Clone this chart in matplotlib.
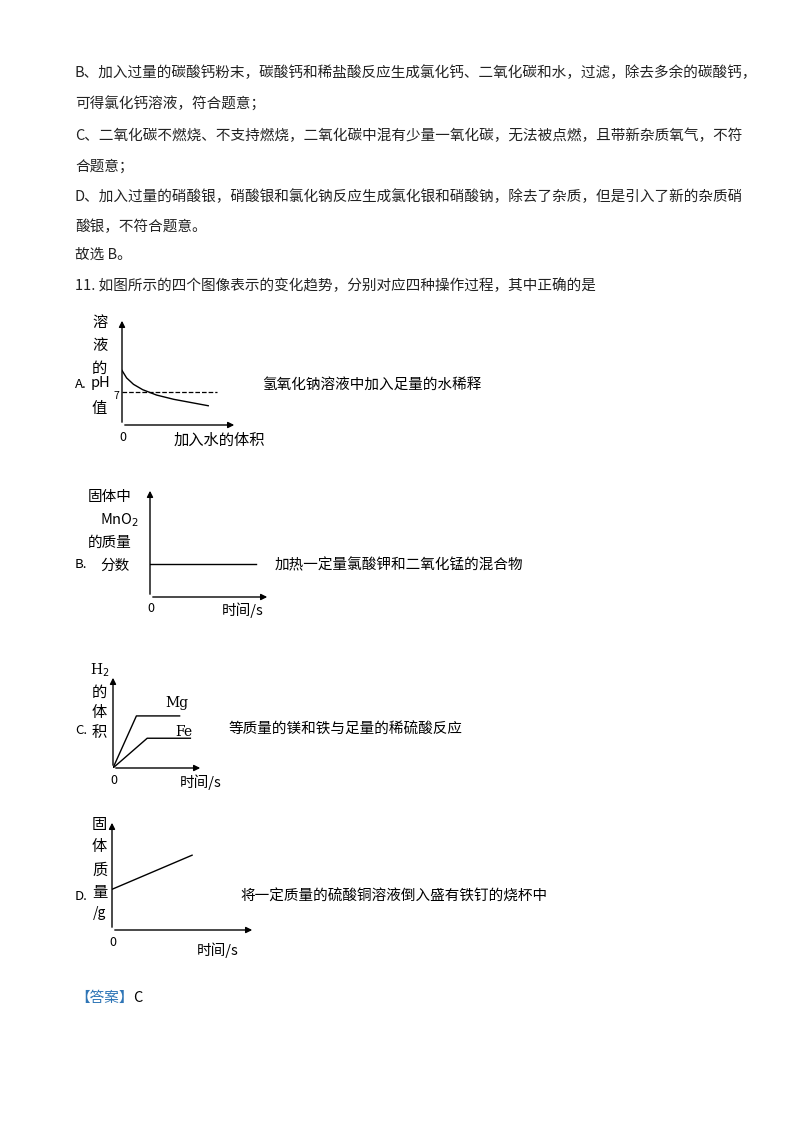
import matplotlib
matplotlib.use("Agg")
import matplotlib.pyplot as plt

plt.rcParams['font.family'] = ['Noto Sans CJK SC', 'DejaVu Sans']

W, H = 800, 1132

# ---- text lines of the page ----
LINES = [
    (73, "B、加入过量的碳酸钙粉末，碳酸钙和稀盐酸反应生成氯化钙、二氧化碳和水，过滤，除去多余的碳酸钙，"),
    (104, "可得氯化钙溶液，符合题意；"),
    (136, "C、二氧化碳不燃烧、不支持燃烧，二氧化碳中混有少量一氧化碳，无法被点燃，且带新杂质氧气，不符"),
    (166, "合题意；"),
    (197, "D、加入过量的硝酸银，硝酸银和氯化钠反应生成氯化银和硝酸钠，除去了杂质，但是引入了新的杂质硝"),
    (227, "酸银，不符合题意。"),
    (255, "故选 B。"),
    (286, "11. 如图所示的四个图像表示的变化趋势，分别对应四种操作过程，其中正确的是"),
]

# graph A: pH of NaOH solution on dilution
ph_x = [0, 0.4, 1.0, 1.8, 3.0, 4.5, 6.0, 7.5]
ph_y = [5.1, 4.4, 3.8, 3.3, 2.8, 2.4, 2.1, 1.8]
ph_7 = 3.1
# graph B: MnO2 mass fraction (constant)
mno2_x = [0, 8.8]
mno2_y = [3.0, 3.0]
# graph C: H2 volume
mg_x = [0, 2.6, 7.4]
mg_y = [0, 5.6, 5.6]
fe_x = [0, 3.8, 8.6]
fe_y = [0, 3.2, 3.2]
# graph D: solid mass
d_x = [0, 5.6]
d_y = [3.7, 6.8]

fig = plt.figure(figsize=(W / 100, H / 100), dpi=100)


def t(x, y, s, size=10.5, **kw):
    fig.text(x / W, 1 - y / H, s, fontsize=size, va="center", ha="left", **kw)


def make_ax(left, right, top, bottom):
    ax = fig.add_axes([left / W, 1 - bottom / H, (right - left) / W, (bottom - top) / H])
    ax.set_xlim(0, 10)
    ax.set_ylim(0, 10)
    ax.axis("off")
    arrow = dict(arrowstyle="-|>", color="black", lw=1.0, mutation_scale=9)
    ax.annotate("", xy=(0, 1.0), xytext=(0, 0), xycoords="axes fraction", arrowprops=arrow)
    ax.annotate("", xy=(1.0, 0), xytext=(0, 0), xycoords="axes fraction", arrowprops=arrow)
    return ax


for y, s in LINES:
    t(75, y, s, 10.5, color="#222222")

# A
ax = make_ax(122, 237, 318, 425)
ax.plot(ph_x, ph_y, color="black", lw=1)
ax.plot([0, 8.3], [ph_7, ph_7], "k--", lw=0.9)
t(75, 385, "A.", 9.5)
for yy, ch in [(322, "溶"), (345, "液"), (368, "的"), (409, "值")]:
    t(92, yy, ch, 11)
t(91, 383, "pH", 10.5)
t(113, 396, "7", 7.5)
t(119, 437, "0", 9)
t(174, 440, "加入水的体积", 11)
t(262, 385, "氢氧化钠溶液中加入足量的水稀释", 10.5)

# B
ax = make_ax(150, 270, 488, 597)
ax.plot(mno2_x, mno2_y, color="black", lw=1)
t(75, 565, "B.", 9.5)
t(88, 497, "固体中", 10.5)
t(100, 520, "MnO$_2$", 10.5)
t(88, 543, "的质量", 10.5)
t(100, 566, "分数", 10.5)
t(147, 608, "0", 9)
t(222, 610, "时间/s", 10.5)
t(275, 565, "加热一定量氯酸钾和二氧化锰的混合物", 10.5)

# C
ax = make_ax(113, 203, 675, 768)
ax.plot(mg_x, mg_y, color="black", lw=1)
ax.plot(fe_x, fe_y, color="black", lw=1)
t(165, 703, "Mg", 10, family="serif")
t(175, 732, "Fe", 10, family="serif")
t(75, 730, "C.", 9.5)
t(90, 670, "H$_2$", 10, family="serif")
for yy, ch in [(692, "的"), (712, "体"), (733, "积")]:
    t(92, yy, ch, 11)
t(110, 780, "0", 9)
t(180, 782, "时间/s", 10.5)
t(228, 730, "等质量的镁和铁与足量的稀硫酸反应", 10.5)

# D
ax = make_ax(112, 255, 820, 930)
ax.plot(d_x, d_y, color="black", lw=1)
t(75, 897, "D.", 9.5)
for yy, ch in [(825, "固"), (847, "体"), (870, "质"), (892, "量")]:
    t(92, yy, ch, 11)
t(93, 913, "/g", 10)
t(109, 942, "0", 9)
t(197, 950, "时间/s", 10.5)
t(240, 897, "将一定质量的硫酸铜溶液倒入盛有铁钉的烧杯中", 10.5)

# answer
t(75, 998, "【答案】", 10.5, color="#2e75b6")
t(133, 998, "C", 10.5)

fig.savefig("out.png", dpi=100)
